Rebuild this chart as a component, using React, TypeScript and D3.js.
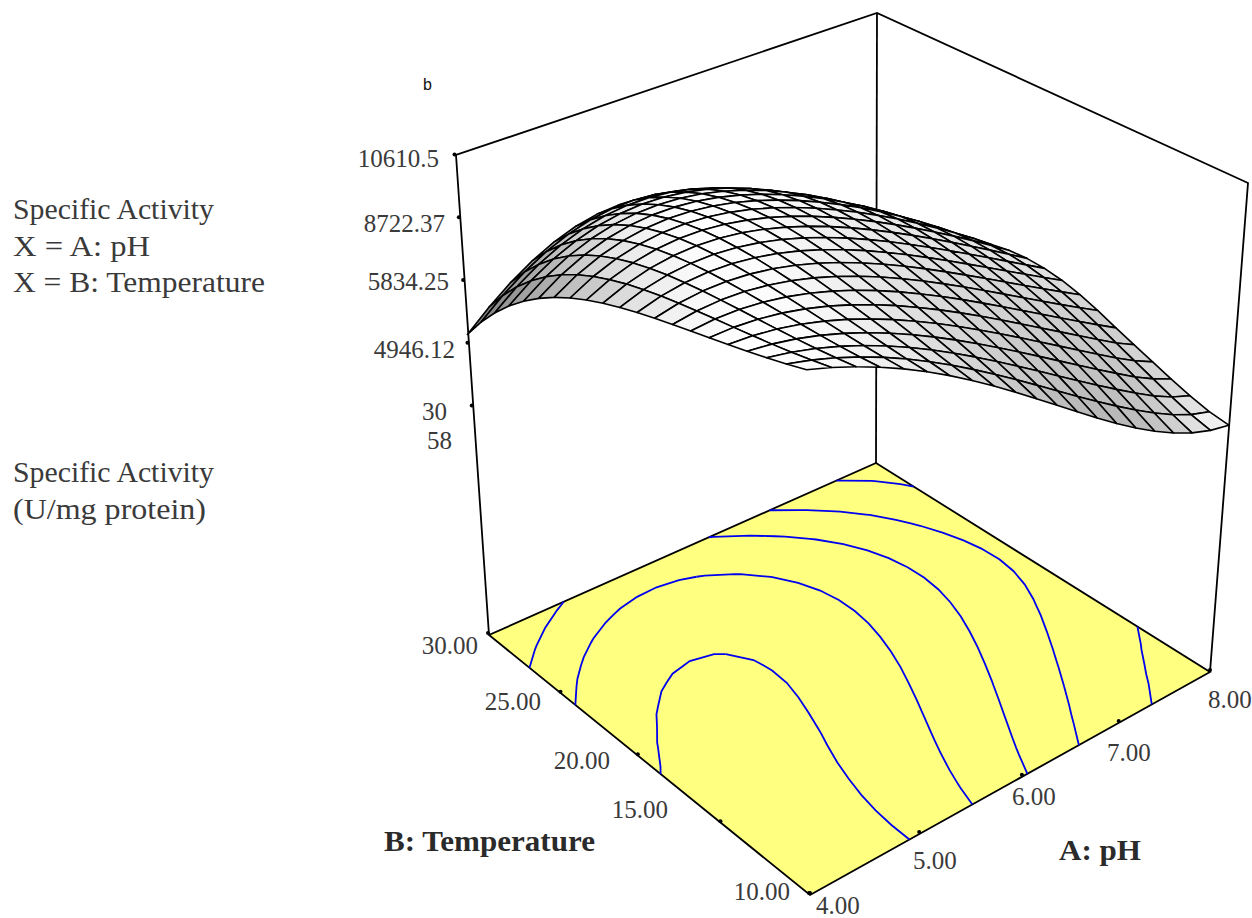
import React from "react";
import * as d3 from "d3";

// Layout anchors of the box
const floorC = { front: [810, 895], right: [1210, 672], left: [489, 635], back: [876, 463] };
const topC = { left: [456, 155], back: [877, 13], right: [1248, 183] };
const ZF = -3830, ZT = 10610.5;

// Data
const pHValues = d3.range(21).map(i => 4 + i * 0.2);
const temperatureValues = d3.range(21).map(j => 10 + j);
const zTicks = [10610.5, 8722.37, 6834.25, 4946.12, 3058];
const levels = [9300, 8200, 7050, 5900, 4450];
const aLabels = ["4.00", "5.00", "6.00", "7.00", "8.00"];
const bLabels = ["10.00", "15.00", "20.00", "25.00", "30.00"];
const zLabels = ["10610.5", "8722.37", "5834.25", "4946.12", "30"];
// specific activity: one row per pH, one column per temperature
const zGrid = [
  [10460,10300,10153,10017,9888,9765,9643,9520,9391,9251,9097,8923,8723,8493,8225,7914,7552,7132,6647,6089,5450],
  [10262,10145,10041,9949,9865,9786,9708,9628,9541,9444,9330,9195,9033,8839,8606,8327,7996,7606,7148,6616,6000],
  [10032,9953,9888,9836,9792,9752,9714,9672,9623,9561,9482,9381,9252,9090,8888,8640,8340,7982,7556,7058,6479],
  [9769,9726,9697,9681,9673,9670,9666,9658,9641,9611,9562,9490,9390,9256,9082,8863,8593,8266,7875,7415,6878],
  [9476,9466,9472,9489,9514,9542,9569,9591,9603,9600,9577,9531,9455,9346,9197,9004,8763,8466,8110,7687,7194],
  [9151,9175,9214,9263,9318,9375,9430,9477,9513,9534,9534,9509,9456,9368,9242,9073,8857,8588,8263,7876,7423],
  [8799,8857,8928,9006,9089,9172,9251,9321,9379,9419,9439,9434,9399,9331,9225,9077,8883,8639,8340,7983,7563],
  [8421,8514,8616,8723,8832,8938,9038,9128,9204,9263,9300,9311,9293,9242,9154,9024,8849,8624,8346,8011,7614],
  [8020,8149,8283,8417,8549,8676,8795,8903,8995,9069,9121,9147,9144,9108,9034,8919,8759,8549,8285,7964,7579],
  [7602,7767,7931,8091,8245,8391,8527,8650,8756,8844,8909,8948,8957,8934,8872,8769,8620,8419,8163,7846,7462],
  [7171,7372,7565,7749,7923,8087,8237,8373,8492,8592,8668,8718,8739,8725,8673,8579,8436,8239,7984,7663,7270],
  [6733,6968,7188,7394,7587,7766,7930,8078,8208,8317,8403,8463,8492,8487,8442,8352,8212,8015,7753,7421,7010],
  [6295,6559,6803,7030,7239,7432,7608,7766,7906,8025,8119,8187,8223,8223,8182,8094,7952,7749,7477,7128,6692],
  [5863,6151,6416,6659,6883,7088,7275,7443,7592,7718,7820,7893,7934,7937,7896,7806,7659,7447,7160,6791,6327],
  [5447,5750,6029,6285,6521,6737,6934,7112,7268,7401,7508,7585,7627,7630,7587,7491,7336,7111,6809,6419,5931],
  [5055,5361,5646,5911,6156,6382,6589,6775,6939,7077,7187,7265,7306,7305,7256,7151,6984,6746,6429,6023,5517],
  [4696,4991,5273,5540,5791,6026,6242,6436,6606,6749,6861,6937,6972,6963,6903,6786,6606,6355,6026,5612,5105],
  [4381,4646,4912,5175,5429,5671,5895,6098,6274,6419,6530,6600,6627,6605,6529,6396,6201,5940,5607,5200,4712],
  [4121,4333,4569,4819,5072,5318,5551,5762,5944,6091,6197,6258,6270,6229,6134,5982,5772,5504,5178,4797,4361],
  [3928,4075,4280,4510,4740,4971,5212,5432,5619,5765,5864,5911,5902,5837,5715,5540,5316,5049,4746,4417,4074],
  [3816,3900,4060,4250,4460,4670,4881,5109,5300,5444,5531,5558,5522,5425,5272,5071,4834,4577,4317,4075,3878],
];

function solve(A: number[][], b: number[]) {
  const n = b.length, M = A.map((r, i) => [...r, b[i]]);
  for (let c = 0; c < n; c++) {
    let p = c; for (let r = c + 1; r < n; r++) if (Math.abs(M[r][c]) > Math.abs(M[p][c])) p = r;
    [M[c], M[p]] = [M[p], M[c]];
    for (let r = 0; r < n; r++) if (r !== c) { const f = M[r][c] / M[c][c]; for (let k = c; k <= n; k++) M[r][k] -= f * M[c][k]; }
  }
  return M.map((r, i) => r[n] / r[i]);
}
function lsq(A: number[][], b: number[]) {
  const n = A[0].length, N = d3.range(n).map(() => new Array(n).fill(0)), y = new Array(n).fill(0);
  A.forEach((r, i) => { for (let p = 0; p < n; p++) { y[p] += r[p] * b[i]; for (let q = 0; q < n; q++) N[p][q] += r[p] * r[q]; } });
  return solve(N, y);
}
const cor: [number, number, number[]][] = [[0, 0, floorC.front], [1, 0, floorC.right], [0, 1, floorC.left], [1, 1, floorC.back]];
const hA: number[][] = [], hb: number[] = [];
cor.forEach(([u, v, [X, Y]]) => {
  hA.push([u, v, 1, 0, 0, 0, -u * X, -v * X]); hb.push(X);
  hA.push([0, 0, 0, u, v, 1, -u * Y, -v * Y]); hb.push(Y);
});
const h = solve(hA, hb);
const zA: number[][] = [], zb: number[] = [];
([[0, 1, topC.left], [1, 1, topC.back], [1, 0, topC.right]] as [number, number, number[]][]).forEach(([u, v, [X, Y]]) => {
  const den = h[6] * u + h[7] * v + 1;
  zA.push([1, 0, -X]); zb.push(X * den - (h[0] * u + h[1] * v + h[2]));
  zA.push([0, 1, -Y]); zb.push(Y * den - (h[3] * u + h[4] * v + h[5]));
});
const c = lsq(zA, zb);
const uS = d3.scaleLinear().domain([4, 8]).range([0, 1]);
const vS = d3.scaleLinear().domain([10, 30]).range([0, 1]);
const tz = d3.scaleLinear().domain([ZF, ZT]).range([0, 1]);
const proj = (a: number, b: number, z: number): [number, number] => {
  const u = uS(a), v = vS(b), t = tz(z), w = h[6] * u + h[7] * v + 1 + c[2] * t;
  return [(h[0] * u + h[1] * v + h[2] + c[0] * t) / w, (h[3] * u + h[4] * v + h[5] + c[1] * t) / w];
};
const serif = "'Liberation Serif', serif";
const tc = "#3a3a3a";
const N = zGrid.length;

function shade(i: number, j: number) {
  const k = 1 / (ZT - ZF);
  const dzu = ((zGrid[i + 1][j] + zGrid[i + 1][j + 1] - zGrid[i][j] - zGrid[i][j + 1]) / 2) * 20 * k;
  const dzv = ((zGrid[i][j + 1] + zGrid[i + 1][j + 1] - zGrid[i][j] - zGrid[i + 1][j]) / 2) * 20 * k;
  const n = [-dzu, -dzv, 1], L = [0.1, 0.12, 1];
  const dot = (n[0] * L[0] + n[1] * L[1] + n[2]) / (Math.hypot(...n) * Math.hypot(...L));
  const g = Math.max(0.5, Math.min(1, 1 - 1.5 * (1 - dot)));
  return d3.rgb(g * 255, g * 255, g * 255).toString();
}
const lineP = d3.line<[number, number]>();
const leftAxis = (z: number): [number, number] => {
  const t = tz(z);
  return [floorC.left[0] + (topC.left[0] - floorC.left[0]) * t, floorC.left[1] + (topC.left[1] - floorC.left[1]) * t];
};
const pathLen = (r: [number, number][]) => d3.sum(d3.pairs(r), ([p, q]) => Math.hypot(q[0] - p[0], q[1] - p[1]));

export default function App() {
  const cells: React.ReactNode[] = [];
  for (let i = N - 2; i >= 0; i--) for (let j = N - 2; j >= 0; j--) {
    const [a0, a1, b0, b1] = [pHValues[i], pHValues[i + 1], temperatureValues[j] , temperatureValues[j + 1]];
    const p = [proj(a0, b0, zGrid[i][j]), proj(a1, b0, zGrid[i + 1][j]), proj(a1, b1, zGrid[i + 1][j + 1]), proj(a0, b1, zGrid[i][j + 1])];
    cells.push(<path key={i + "-" + j} d={lineP(p as any) + "Z"} fill={shade(i, j)} stroke="#000" strokeWidth={1.6} strokeLinejoin="round" />);
  }
  const flat = d3.merge<number>(d3.range(N).map(j => d3.range(N).map(i => zGrid[i][j])));
  const cont = d3.contours().size([N, N]).thresholds(levels)(flat);
  const runs: [number, number][][] = [];
  const gridA = d3.scaleLinear().domain([0, N - 1]).range([4, 8]);
  const gridB = d3.scaleLinear().domain([0, N - 1]).range([10, 30]);
  cont.forEach(mp => mp.coordinates.forEach(poly => poly.forEach(ring => {
    let cur: [number, number][] = [];
    const flush = () => { if (cur.length > 1 && pathLen(cur) > 30) runs.push(cur); cur = []; };
    ring.forEach(([x, y]) => {
      const ok = x >= 0.499 && x <= N - 0.499 && y >= 0.499 && y <= N - 0.499;
      if (ok) cur.push(proj(gridA(x - 0.5), gridB(y - 0.5), ZF));
      else flush();
    });
    flush();
  })));
  const F = [proj(4, 10, ZF), proj(8, 10, ZF), proj(8, 30, ZF), proj(4, 30, ZF)];
  const T = (s: string, x: number, y: number, w: number) => <text x={x} y={y} textLength={w} lengthAdjust="spacingAndGlyphs">{s}</text>;
  return (
    <svg width={1252} height={918} style={{ position: "absolute", left: 0, top: 0 }}>
      <rect width={1252} height={918} fill="#fff" />
      <g fontFamily={serif} fill={tc} fontSize={29}>
        {T("Specific Activity", 13, 219, 201)}
        {T("X = A: pH", 13, 256, 137)}
        {T("X = B: Temperature", 13, 292, 252)}
        {T("Specific Activity", 13, 482, 201)}
        {T("(U/mg protein)", 13, 519, 193)}
      </g>
      <text x={423} y={90} fontFamily="'Liberation Sans', sans-serif" fontSize={16} fill="#111">b</text>
      <g stroke="#000" strokeWidth={1.8} fill="none">
        <path d={lineP([floorC.left, topC.left, topC.back, topC.right, floorC.right] as any) || ""} />
        <path d={lineP([floorC.back, topC.back] as any) || ""} />
      </g>
      <path d={lineP(F as any) + "Z"} fill="#ffff80" stroke="#000" strokeWidth={1.8} />
      {runs.map((r, i) => <path key={i} d={lineP(r) || ""} fill="none" stroke="#0000f0" strokeWidth={1.8} />)}
      {cells}
      {zTicks.map((z, i) => { const [x, y] = leftAxis(z); return <circle key={i} cx={x - 1.5} cy={y - 0.5} r={2} fill="#000" />; })}
      {aLabels.map((_, i) => { const [x, y] = proj(4 + i, 10, ZF); return <circle key={i} cx={x} cy={y - 2} r={2} fill="#000" />; })}
      {bLabels.map((_, i) => { const [x, y] = proj(4, 10 + i * 5, ZF); return <circle key={i} cx={x - 1} cy={y - 2} r={2} fill="#000" />; })}
      <g fontFamily={serif} fill={tc} fontSize={25}>
        {zLabels.map((t, i) => <text key={i} x={[439, 445, 449, 455, 447][i]} y={[167, 232, 290, 358, 420][i]} textAnchor="end">{t}</text>)}
        <text x={452} y={449} textAnchor="end">58</text>
        {aLabels.map((t, i) => <text key={i} x={[816, 913, 1012, 1107, 1208][i]} y={[914, 869, 805, 761, 708][i]}>{t}</text>)}
        {bLabels.map((t, i) => <text key={i} x={[790, 668, 610, 541, 478][i]} y={[900, 818, 769, 710, 654][i]} textAnchor="end">{t}</text>)}
      </g>
      <g fontFamily={serif} fill="#2a2a2a" fontSize={30} fontWeight="bold">
        {T("B: Temperature", 384, 851, 211)}
        {T("A: pH", 1059, 860, 82)}
      </g>
    </svg>
  );
}
